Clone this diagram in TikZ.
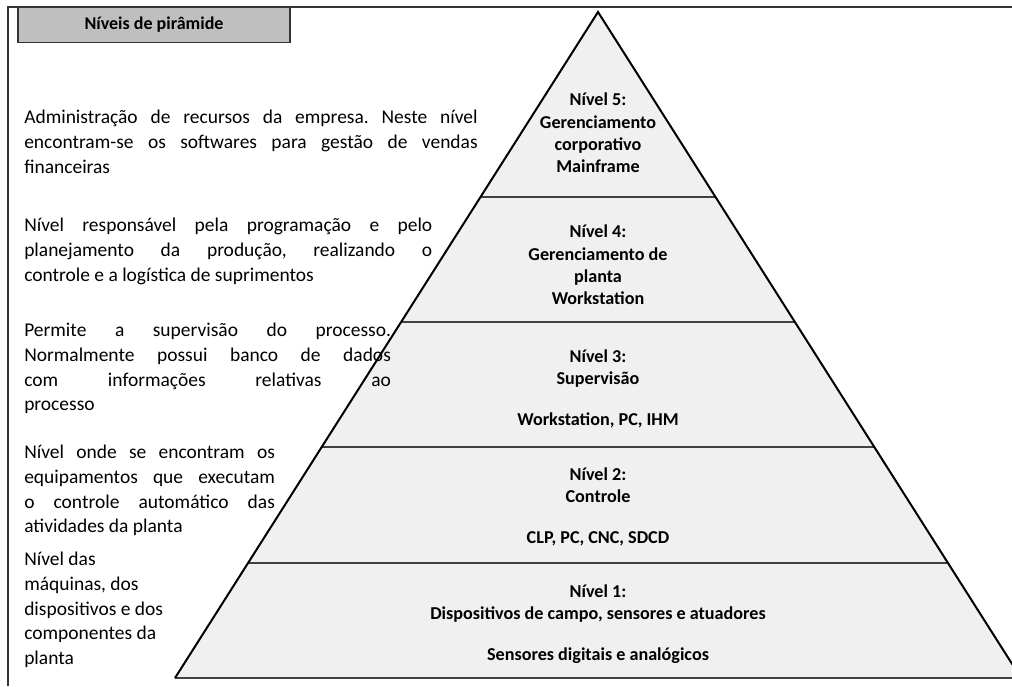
\documentclass[tikz,border=0pt]{standalone}
\usepackage{fontspec}
\setmainfont{Carlito}
\usetikzlibrary{calc}
\frenchspacing
\newcommand{\jline}[2]{\makebox[#1][s]{#2}}

\begin{document}
\begin{tikzpicture}[
    x=0.75pt, y=-0.75pt,
    every node/.style={inner sep=0pt},
    note/.style={
        anchor=north west,
        align=left,
        font=\fontsize{14.6}{18.5}\selectfont
    },
    level/.style={
        align=center,
        font=\fontsize{13.6}{16.7}\selectfont\bfseries
    },
    titlebox/.style={
        draw=black!80,
        line width=1.2pt,
        fill=black!25,
        minimum width=204pt,
        minimum height=26pt,
        font=\fontsize{13.5}{15}\selectfont\bfseries
    },
    divider/.style={line width=2pt, draw=black!75},
    slope/.style={line width=1.5pt, draw=black, line join=miter}
]
\useasboundingbox (0,0) rectangle (1012,686);

% Frame
\draw[line width=1.5pt, black!80] (8,686) -- (8,7) -- (1012,7);

% Title
\node[titlebox] (title) at (154,25) {Níveis de pirâmide};

% Pyramid
\coordinate (apex) at (598,12);
\coordinate (baseL) at (175,678);
\coordinate (baseR) at (1021,678);
\fill[black!6] (apex) -- (baseL) -- (baseR) -- cycle;
\foreach \t in {0.2778,0.4655,0.6532,0.8273}
    \draw[divider] ($(apex)!\t!(baseL)$) -- ($(apex)!\t!(baseR)$);
\draw[divider] (baseL) -- (baseR);
\draw[slope] (baseL) -- (apex) -- (baseR);

% Level labels
\node[level] (lvl5) at (598,133) {Nível 5:\\ Gerenciamento\\ corporativo\\ Mainframe};
\node[level] (lvl4) at (598,265) {Nível 4:\\ Gerenciamento de\\ planta\\ Workstation};
\node[level] (lvl3) at (598,389) {Nível 3:\\ Supervisão\\[14pt] Workstation, PC, IHM};
\node[level] (lvl2) at (598,507) {Nível 2:\\ Controle\\[14pt] CLP, PC, CNC, SDCD};
\node[level] (lvl1) at (598,624) {Nível 1:\\ Dispositivos de campo, sensores e atuadores\\[14pt] Sensores digitais e analógicos};

% Descriptions on the left
\node[note] (note5) at (24,110) {
    \jline{340pt}{Administração de recursos da empresa. Neste nível}\\
    \jline{340pt}{encontram-se os softwares para gestão de vendas}\\
    financeiras
};

\node[note] (note4) at (24,218) {
    \jline{306pt}{Nível responsável pela programação e pelo}\\
    \jline{306pt}{planejamento da produção, realizando o}\\
    controle e a logística de suprimentos
};

\node[note] (note3) at (24,323) {
    \jline{275pt}{Permite a supervisão do processo.}\\
    \jline{275pt}{Normalmente possui banco de dados}\\
    \jline{275pt}{com informações relativas ao}\\
    processo
};

\node[note] (note2) at (24,445) {
    \jline{188pt}{Nível onde se encontram os}\\
    \jline{188pt}{equipamentos que executam}\\
    \jline{188pt}{o controle automático das}\\
    atividades da planta
};

\node[note] (note1) at (24,552) {
    Nível das\\
    máquinas, dos\\
    dispositivos e dos\\
    componentes da\\
    planta
};

\end{tikzpicture}
\end{document}
